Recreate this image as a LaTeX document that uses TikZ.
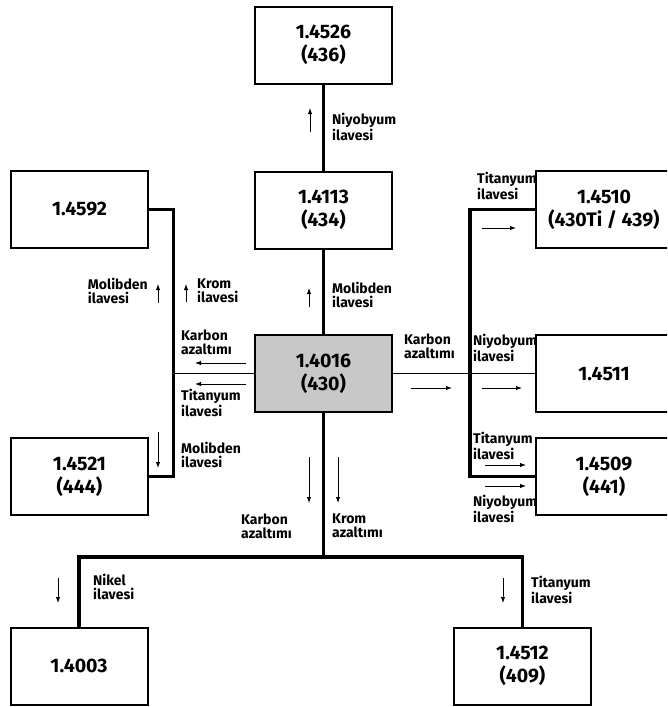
\documentclass[tikz,border=0pt]{standalone}
\usepackage{fontspec}
\setmainfont{Fira Sans}
\usepackage{xcolor}
\usepackage{tikz}
\usetikzlibrary{arrows.meta,positioning}
\definecolor{boxgray}{RGB}{200,200,200}

\begin{document}
\begin{tikzpicture}[x=1pt,y=-1pt,
                    grade/.style={draw, black, line width=2pt, minimum width=137pt, minimum height=77pt,
                                  inner sep=0pt, align=center, font=\fontsize{19.5}{23}\selectfont\bfseries},
                    note/.style={inner sep=0pt, align=left, font=\fontsize{14}{14}\selectfont\bfseries},
                    trunk/.style={line width=3pt, black},
                    bus/.style={line width=3.6pt, black},
                    thinline/.style={line width=1.3pt, black},
                    step arrow/.style={line width=1pt, black, -{Latex[length=6pt,width=4.5pt]}},
                   ]

\useasboundingbox (0,0) rectangle (667,707);
\clip (0,0) rectangle (667,707);

% grades
\node[grade] (n4526) at (323.5,45) {1.4526\\(436)};
\node[grade] (n4113) at (323.5,210) {1.4113\\(434)};
\node[grade, fill=boxgray] (n4016) at (323.5,373.5) {1.4016\\(430)};
\node[grade] (n4592) at (79.5,209.5) {1.4592};
\node[grade] (n4521) at (79.5,476.5) {1.4521\\(444)};
\node[grade] (n4510) at (604,209.5) {1.4510\\(430Ti / 439)};
\node[grade] (n4511) at (604,373.5) {1.4511};
\node[grade] (n4509) at (604,476.5) {1.4509\\(441)};
\node[grade] (n4003) at (79,666) {1.4003};
\node[grade] (n4512) at (522.5,666) {1.4512\\(409)};

\coordinate (lbus) at (173,0);
\coordinate (rbus) at (470,0);
\coordinate (bbus) at (0,557);

% connectors
\draw[trunk] (n4526) -- (n4113);
\draw[trunk] (n4113) -- (n4016);
\draw[thinline] (n4016.west) -- (n4016.west -| lbus);
\draw[trunk] (n4592.east) -- (n4592.east -| lbus) -- (n4521.east -| lbus) -- (n4521.east);
\draw[thinline] (n4016.east) -- (n4511.west);
\draw[bus] (n4510.west) -- (n4510.west -| rbus) -- (n4509.west -| rbus) -- (n4509.west);
\draw[bus] (n4016.south) -- (n4016.south |- bbus);
\draw[bus] (n4003.north) -- (n4003.north |- bbus) -- (n4512.north |- bbus) -- (n4512.north);

% labels
\node[note, anchor=north west] (t1) at (332,113) {Niyobyum\\ilavesi};
\node[note, anchor=north west] (t2) at (332,282) {Molibden\\ilavesi};
\node[note, anchor=north east, align=left] (t3) at (148,278) {Molibden\\ilavesi};
\node[note, anchor=north west] (t4) at (197,279) {Krom\\ilavesi};
\node[note, anchor=north west] (t5) at (181,330) {Karbon\\azaltımı};
\node[note, anchor=north west] (t6) at (181,389) {Titanyum\\ilavesi};
\node[note, anchor=north west] (t7) at (181,442) {Molibden\\ilavesi};
\node[note, anchor=north west] (t8) at (241,514) {Karbon\\azaltımı};
\node[note, anchor=north west] (t9) at (332,514) {Krom\\azaltımı};
\node[note, anchor=north west] (t10) at (93,574) {Nikel\\ilavesi};
\node[note, anchor=north west] (t11) at (531,576) {Titanyum\\ilavesi};
\node[note, anchor=north west] (t12) at (404,334) {Karbon\\azaltımı};
\node[note, anchor=north west] (t13) at (473,334) {Niyobyum\\ilavesi};
\node[note, anchor=north west] (t14) at (477,172) {Titanyum\\ilavesi};
\node[note, anchor=north west] (t15) at (473,432) {Titanyum\\ilavesi};
\node[note, anchor=north west] (t16) at (473,495) {Niyobyum\\ilavesi};

% direction arrows
\foreach \x/\ya/\yb in {310/132/108, 309/307/288, 158/303/284, 186/302/284,
                        158/432/468, 309/457/503, 338/457/503, 58/578/603, 503/578/603}
  \draw[step arrow] (\x,\ya) -- (\x,\yb);
\foreach \y/\xa/\xb in {363/246/195, 384/246/195, 388/411/452, 388/482/522,
                        228/482/516, 465/485/526, 486/485/526}
  \draw[step arrow] (\xa,\y) -- (\xb,\y);

\end{tikzpicture}
\end{document}
